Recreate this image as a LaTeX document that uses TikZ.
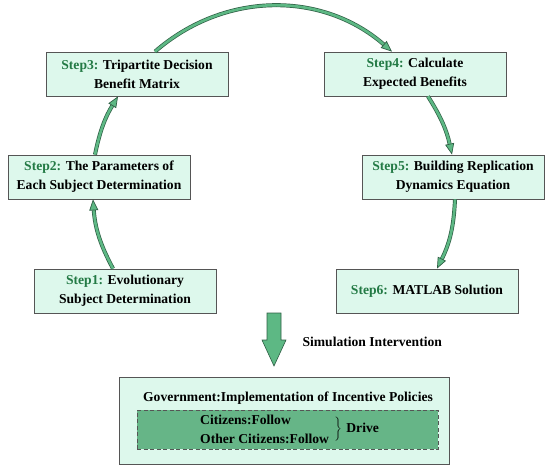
\documentclass[tikz,border=0pt]{standalone}
\usepackage{fontspec}
\setmainfont{Liberation Serif}
\usetikzlibrary{arrows.meta}

\definecolor{boxfill}{HTML}{DDF8EC}
\definecolor{boxline}{HTML}{555555}
\definecolor{innerfill}{HTML}{66B587}
\definecolor{flowfill}{HTML}{5DB884}
\definecolor{flowline}{HTML}{2F5F45}
\definecolor{steptext}{HTML}{237A45}

\newcommand{\steplbl}[1]{\textcolor{steptext}{#1}}

\begin{document}
\begin{tikzpicture}[x=1pt, y=-1pt, font=\bfseries\fontsize{13.6}{19}\selectfont,
    stepbox/.style={draw=boxline, fill=boxfill, line width=0.8pt, minimum width=182pt,
        minimum height=44pt, align=center, inner sep=2pt},
    flow/.style={draw=flowline, double=flowfill, double distance=2.6pt, line width=0.7pt,
        -{Triangle[length=11pt, width=9pt, fill=flowfill]}}]
    \useasboundingbox (0,0) rectangle (550,474);

    % Steps round the circle
    \node[stepbox] (s3) at (137,74) {\steplbl{Step3:} Tripartite Decision\\Benefit Matrix};
    \node[stepbox] (s2) at (99,177) {\steplbl{Step2:} The Parameters of\\Each Subject Determination};
    \node[stepbox] (s1) at (125,291) {\steplbl{Step1:} Evolutionary\\Subject Determination};
    \node[stepbox] (s4) at (415,74) {\steplbl{Step4:} Calculate\\Expected Benefits};
    \node[stepbox] (s5) at (453,177) {\steplbl{Step5:} Building Replication\\Dynamics Equation};
    \node[stepbox] (s6) at (427,291) {\steplbl{Step6:} MATLAB Solution};

    % Flow arrows
    \draw[flow] ([xshift=-12pt]s1.north) to[bend left=12] ([xshift=-6pt]s2.south);
    \draw[flow] ([xshift=-4pt]s2.north) to[bend left=10] ([xshift=-19pt]s3.south);
    \draw[flow] ([xshift=18pt]s3.north) to[bend left=41] ([xshift=-23pt]s4.north);
    \draw[flow] ([xshift=13pt]s4.south) to[bend left=10] ([xshift=-1pt]s5.north);
    \draw[flow] ([xshift=2pt]s5.south) to[bend left=12] ([xshift=10pt]s6.north);

    % Simulation arrow
    \filldraw[fill=flowfill, draw=flowline, line width=0.6pt] (267,313) -- (281,313) -- (281,340)
        -- (286,340) -- (274,366) -- (262,340) -- (267,340) -- cycle;
    \node[anchor=west] (sim) at (299,342) {Simulation Intervention};

    % Policy box
    \node[draw=boxline, fill=boxfill, line width=0.8pt, minimum width=330pt,
        minimum height=87pt] (policy) at (284,420.5) {};
    \node (gov) at (288,398) {Government:Implementation of Incentive Policies};
    \node[draw=boxline, dash pattern=on 4pt off 2.5pt, fill=innerfill, line width=0.8pt,
        minimum width=301pt, minimum height=39pt] (inner) at (287.5,429.5) {};
    \node[anchor=west, align=left, inner sep=0pt] (cit) at (200,429)
        {Citizens:Follow\\Other Citizens:Follow};
    \node[anchor=west, inner sep=0pt] (drive) at ([xshift=5pt]cit.east) {$\bigg\}$\,\,Drive};
\end{tikzpicture}
\end{document}
